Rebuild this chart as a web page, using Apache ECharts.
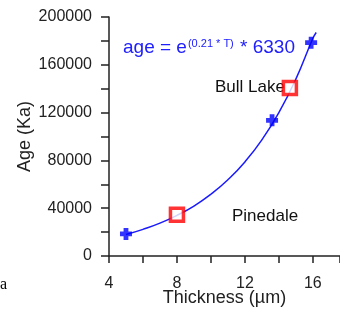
<!DOCTYPE html>
<html>
<head>
<meta charset="utf-8">
<script src="https://cdn.jsdelivr.net/npm/echarts@6/dist/echarts.min.js"></script>
<style>
  html, body { margin: 0; padding: 0; background: #fff; }
  #main { width: 340px; height: 309px; }
</style>
</head>
<body>
<div id="main"></div>
<script>
// 测年数据 - 点位
let crossPoints = [[5, 18500], [13.6, 113500], [15.9, 178500]];
let squarePoints = [[8, 34500], [14.65, 140500]];
// 拟合曲线
let curveX = [5, 6, 7, 8, 9, 10, 11, 12, 13, 14, 15, 16, 16.2];
let curveY = [18000, 22300, 27500, 34000, 41800, 51700, 63800, 78700, 97200, 120000, 148000, 182000, 187000];
// 刻度
let xTicks = [4, 8, 12, 16];
let yTicks = [0, 40000, 80000, 120000, 160000, 200000];

let chart = echarts.init(document.getElementById('main'), null, { renderer: 'canvas' });

let fontFam = '"Liberation Sans", Arial, sans-serif';
let plus = 'path://M3,0H7V3H10V7H7V10H3V7H0V3H3Z';

let option = {
  backgroundColor: '#ffffff',
  animation: false,
  grid: { left: 109, right: 0, top: 17, bottom: 53, containLabel: false, outerBoundsMode: 'none' },
  xAxis: {
    type: 'value', min: 4, max: 17.6, interval: 2,
    name: 'Thickness (µm)', nameLocation: 'middle', nameGap: 33, nameMoveOverlap: false,
    nameTextStyle: { fontFamily: fontFam, fontSize: 18, color: '#222' },
    axisLine: { lineStyle: { color: '#222', width: 1.5 } },
    axisTick: { length: 7, lineStyle: { color: '#222', width: 1.5 } },
    axisLabel: {
      margin: 20, fontFamily: fontFam, fontSize: 16, color: '#222',
      formatter: v => xTicks.indexOf(v) > -1 ? String(v) : ''
    },
    splitLine: { show: false }
  },
  yAxis: {
    type: 'value', min: 0, max: 200000, interval: 20000,
    name: 'Age (Ka)', nameLocation: 'middle', nameGap: 75, nameMoveOverlap: false,
    nameTextStyle: { fontFamily: fontFam, fontSize: 18, color: '#222' },
    axisLine: { lineStyle: { color: '#222', width: 1.5 } },
    axisTick: { length: 8, lineStyle: { color: '#222', width: 1.5 } },
    axisLabel: {
      margin: 17, fontFamily: fontFam, fontSize: 16, color: '#222',
      formatter: v => yTicks.indexOf(v) > -1 ? String(v) : ''
    },
    splitLine: { show: false }
  },
  series: [
    {
      type: 'line', smooth: true, symbol: 'none',
      lineStyle: { color: '#1a1aff', width: 1.5 },
      data: curveX.map((x, i) => [x, curveY[i]]),
      z: 2
    },
    {
      type: 'scatter', symbol: 'rect', symbolSize: 13,
      itemStyle: { color: '#ffffff', borderColor: '#ff0000', borderWidth: 3.5 },
      data: squarePoints, z: 3
    },
    {
      type: 'scatter', symbol: plus, symbolSize: 12,
      itemStyle: { color: '#0000ff' },
      data: crossPoints, z: 4
    }
  ],
  graphic: [
    {
      type: 'text', left: 123, top: 38,
      style: {
        text: '{a|age = e}{s|(0.21 * T)}{a| * 6330}',
        rich: {
          a: { fontFamily: fontFam, fontSize: 19, fill: '#2020ff', verticalAlign: 'bottom' },
          s: { fontFamily: fontFam, fontSize: 11, fill: '#2020ff', verticalAlign: 'top', padding: [0, 1, 8, 1] }
        }
      }
    },
    {
      type: 'text', left: 215, top: 79,
      style: { text: 'Bull Lake', fontFamily: fontFam, fontSize: 17, fill: '#111' }
    },
    {
      type: 'text', left: 232, top: 208,
      style: { text: 'Pinedale', fontFamily: fontFam, fontSize: 17, fill: '#111' }
    },
    {
      type: 'text', left: 0, top: 277,
      style: { text: 'a', fontFamily: '"Liberation Serif", serif', fontSize: 16, fill: '#000' }
    }
  ]
};
chart.setOption(option);
</script>
</body>
</html>
